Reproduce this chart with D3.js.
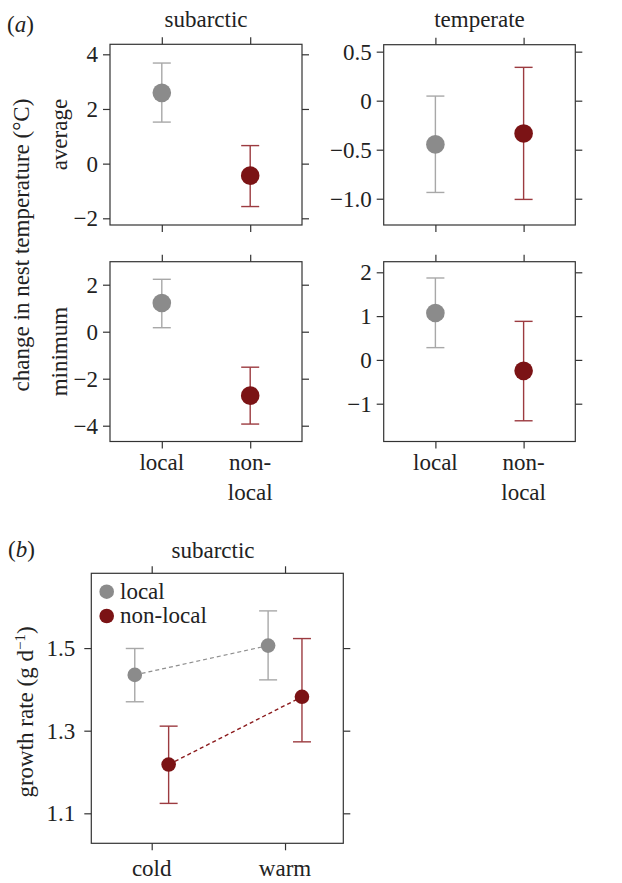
<!DOCTYPE html>
<html>
<head>
<meta charset="utf-8">
<script src="https://cdn.jsdelivr.net/npm/d3@7"></script>
<style>
  body { margin: 0; background: #fff; }
  svg text { font-family: "Liberation Serif", "Times New Roman", Tinos, "DejaVu Serif", serif; fill: #222; }
</style>
</head>
<body>
<div class="chart"></div>
<script>
// categories
var groups = ["local", "non-local"];
var seasons = ["cold", "warm"];

// (a) change in nest temperature, [local, non-local]
var subAvgMean = [2.59, -0.44], subAvgLo = [1.52, -1.57], subAvgHi = [3.68, 0.66];
var temAvgMean = [-0.446, -0.334], temAvgLo = [-0.936, -1.007], temAvgHi = [0.047, 0.34];
var subMinMean = [1.22, -2.72], subMinLo = [0.17, -3.93], subMinHi = [2.23, -1.51];
var temMinMean = [1.07, -0.25], temMinLo = [0.28, -1.39], temMinHi = [1.87, 0.88];

// (b) growth rate, [cold, warm]
var growLocal = [1.435, 1.506], growLocalLo = [1.37, 1.423], growLocalHi = [1.499, 1.59];
var growNon = [1.218, 1.382], growNonLo = [1.124, 1.273], growNonHi = [1.311, 1.523];

// tick labels
var subAvgTicks = [-2, 0, 2, 4];
var temAvgTicks = [-1.0, -0.5, 0, 0.5];
var subMinTicks = [-4, -2, 0, 2];
var temMinTicks = [-1, 0, 1, 2];
var growTicks = [1.1, 1.3, 1.5];

var grey = "#8b8b8b", greyBar = "#a8a8a8";
var red = "#7b1315", redBar = "#9c3b40";

var svg = d3.select(".chart").append("svg")
    .attr("width", 622)
    .attr("height", 883);

function fmt1(d) {
    return d === 0 ? "0" : d3.format(".1f")(d);
}

function frame(g, x, y, ticks, tickFmt, lpad) {
    var x0 = x.range()[0], x1 = x.range()[1];
    var y0 = y.range()[0], y1 = y.range()[1];
    g.append("g").attr("transform", "translate(" + x0 + ",0)")
        .call(d3.axisLeft(y).tickValues(ticks).tickFormat(tickFmt).tickSize(7).tickPadding(lpad).tickSizeOuter(0));
    g.append("g").attr("transform", "translate(" + x1 + ",0)")
        .call(d3.axisRight(y).tickValues(ticks).tickFormat("").tickSize(7).tickSizeOuter(0));
    g.selectAll(".domain").remove();
    g.selectAll("g").attr("font-family", null);
    g.selectAll(".tick line").attr("stroke", "#333").attr("stroke-width", 1.2);
    g.selectAll(".tick text").style("font-size", "23px").attr("fill", "#222");
    g.append("rect")
        .attr("x", x0).attr("y", y1)
        .attr("width", x1 - x0).attr("height", y0 - y1)
        .attr("fill", "none").attr("stroke", "#333").attr("stroke-width", 1.2);
}

function errBars(g, xs, y, mean, lo, hi, colors, barColors, r, cap) {
    var d = mean.map(function(m, i) { return {x: xs[i], m: m, lo: lo[i], hi: hi[i], c: colors[i], b: barColors[i]}; });
    var e = g.append("g").selectAll("g").data(d).enter().append("g");
    e.append("line")
        .attr("x1", function(d) { return d.x; }).attr("x2", function(d) { return d.x; })
        .attr("y1", function(d) { return y(d.lo); }).attr("y2", function(d) { return y(d.hi); })
        .attr("stroke", function(d) { return d.b; }).attr("stroke-width", 1.4);
    ["lo", "hi"].forEach(function(k) {
        e.append("line")
            .attr("x1", function(d) { return d.x - cap; }).attr("x2", function(d) { return d.x + cap; })
            .attr("y1", function(d) { return y(d[k]); }).attr("y2", function(d) { return y(d[k]); })
            .attr("stroke", function(d) { return d.b; }).attr("stroke-width", 1.4);
    });
    e.append("circle")
        .attr("cx", function(d) { return d.x; })
        .attr("cy", function(d) { return y(d.m); })
        .attr("r", r)
        .attr("fill", function(d) { return d.c; });
}

// ---- panel (a)
var aPanels = [
    {x: [110, 302], y: [44.3, 225], dom: [-2.245, 4.366], ticks: subAvgTicks, fmt: d3.format("d"), mean: subAvgMean, lo: subAvgLo, hi: subAvgHi, xlab: false},
    {x: [383.7, 575.3], y: [44.7, 225], dom: [-1.268, 0.571], ticks: temAvgTicks, fmt: fmt1, mean: temAvgMean, lo: temAvgLo, hi: temAvgHi, xlab: false},
    {x: [110, 302], y: [261.7, 441.5], dom: [-4.672, 2.979], ticks: subMinTicks, fmt: d3.format("d"), mean: subMinMean, lo: subMinLo, hi: subMinHi, xlab: true},
    {x: [383.7, 575.3], y: [261.7, 441.5], dom: [-1.863, 2.242], ticks: temMinTicks, fmt: d3.format("d"), mean: temMinMean, lo: temMinLo, hi: temMinHi, xlab: true}
];

aPanels.forEach(function(p) {
    var g = svg.append("g");
    var x = d3.scalePoint().domain(groups).range(p.x).padding(0.586);
    var y = d3.scaleLinear().domain(p.dom).range([p.y[1], p.y[0]]);
    // top & bottom ticks
    g.append("g").attr("transform", "translate(0," + p.y[1] + ")")
        .call(d3.axisBottom(x).tickSize(7).tickFormat("").tickSizeOuter(0));
    g.append("g").attr("transform", "translate(0," + p.y[0] + ")")
        .call(d3.axisTop(x).tickSize(7).tickFormat("").tickSizeOuter(0));
    frame(g, d3.scaleLinear().range(p.x), y, p.ticks, p.fmt, 5);
    if (p.xlab) {
        groups.forEach(function(k) {
            var t = g.append("text").attr("x", x(k)).attr("y", 470)
                .attr("text-anchor", "middle").style("font-size", "23px");
            if (k === "non-local") {
                t.append("tspan").attr("x", x(k)).text("non-");
                t.append("tspan").attr("x", x(k)).attr("dy", 30).text("local");
            } else {
                t.text(k);
            }
        });
    }
    errBars(g, groups.map(function(k) { return x(k); }), y, p.mean, p.lo, p.hi,
        [grey, red], [greyBar, redBar], 9.3, 9);
});

svg.append("text").attr("x", 206).attr("y", 26.5).attr("text-anchor", "middle").style("font-size", "23px").text("subarctic");
svg.append("text").attr("x", 479.5).attr("y", 26.5).attr("text-anchor", "middle").style("font-size", "23px").text("temperate");
var la = svg.append("text").attr("x", 7).attr("y", 32).style("font-size", "23px");
la.append("tspan").text("(");
la.append("tspan").style("font-style", "italic").text("a");
la.append("tspan").text(")");

svg.append("text").attr("transform", "translate(29,245) rotate(-90)")
    .attr("text-anchor", "middle").style("font-size", "23px")
    .text("change in nest temperature (°C)");
svg.append("text").attr("transform", "translate(67,134.6) rotate(-90)")
    .attr("text-anchor", "middle").style("font-size", "23px").text("average");
svg.append("text").attr("transform", "translate(67,351.6) rotate(-90)")
    .attr("text-anchor", "middle").style("font-size", "23px").text("minimum");

// ---- panel (b)
var gb = svg.append("g");
var xb = d3.scaleLinear().domain([0.547, 2.437]).range([91.3, 343.3]);
var yb = d3.scaleLinear().domain([1.0274, 1.681]).range([843.3, 573.3]);
var dodge = 0.127;

gb.append("g").attr("transform", "translate(0,843.3)")
    .call(d3.axisBottom(xb).tickValues([1, 2]).tickSize(7).tickFormat("").tickSizeOuter(0));
gb.append("g").attr("transform", "translate(0,573.3)")
    .call(d3.axisTop(xb).tickValues([1, 2]).tickSize(7).tickFormat("").tickSizeOuter(0));
frame(gb, xb, yb, growTicks, d3.format(".1f"), 9);

seasons.forEach(function(s, i) {
    gb.append("text").attr("x", xb(i + 1)).attr("y", 876)
        .attr("text-anchor", "middle").style("font-size", "23px").text(s);
});

var line = d3.line().x(function(d) { return xb(d[0]); }).y(function(d) { return yb(d[1]); });
gb.append("path")
    .attr("d", line(growLocal.map(function(v, i) { return [i + 1 - dodge, v]; })))
    .attr("fill", "none").attr("stroke", "#8f8f8f").attr("stroke-width", 1.2).attr("stroke-dasharray", "4,3");
gb.append("path")
    .attr("d", line(growNon.map(function(v, i) { return [i + 1 + dodge, v]; })))
    .attr("fill", "none").attr("stroke", "#8b1a1c").attr("stroke-width", 1.4).attr("stroke-dasharray", "4,3");

errBars(gb, [1 - dodge, 2 - dodge].map(xb), yb, growLocal, growLocalLo, growLocalHi,
    [grey, grey], [greyBar, greyBar], 7.3, 9);
errBars(gb, [1 + dodge, 2 + dodge].map(xb), yb, growNon, growNonLo, growNonHi,
    [red, red], [redBar, redBar], 7.3, 9);

// legend
var legend = gb.append("g");
[["local", grey], ["non-local", red]].forEach(function(d, i) {
    legend.append("circle").attr("cx", 106.7).attr("cy", 591.7 + i * 24.3).attr("r", 7.3).attr("fill", d[1]);
    legend.append("text").attr("x", 120).attr("y", 599 + i * 24.3).style("font-size", "23px").text(d[0]);
});

svg.append("text").attr("x", 213).attr("y", 558).attr("text-anchor", "middle").style("font-size", "23px").text("subarctic");
var lb = svg.append("text").attr("x", 8).attr("y", 557).style("font-size", "23px");
lb.append("tspan").text("(");
lb.append("tspan").style("font-style", "italic").text("b");
lb.append("tspan").text(")");

var gl = svg.append("text").attr("transform", "translate(33,712) rotate(-90)")
    .attr("text-anchor", "middle").style("font-size", "23px");
gl.append("tspan").text("growth rate (g d");
gl.append("tspan").attr("dy", -8).style("font-size", "15px").text("−1");
gl.append("tspan").attr("dy", 8).text(")");
</script>
</body>
</html>
